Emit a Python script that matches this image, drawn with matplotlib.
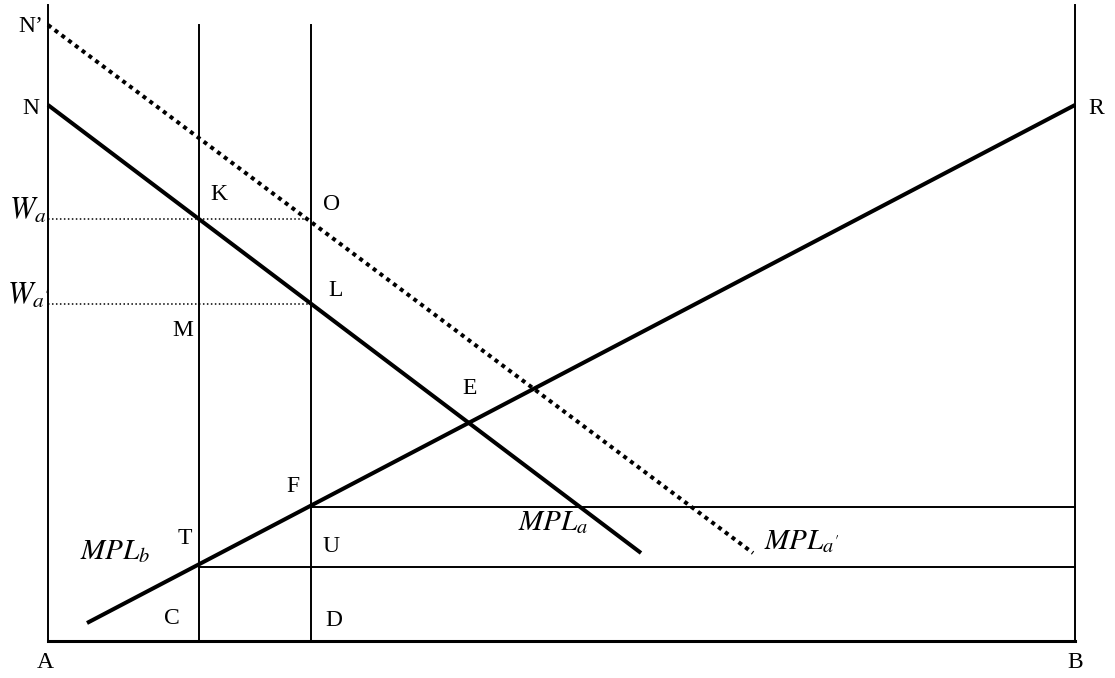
import matplotlib
matplotlib.use("Agg")
import matplotlib.pyplot as plt

plt.rcParams['mathtext.fontset'] = 'stix'
plt.rcParams['font.family'] = ['Liberation Serif', 'DejaVu Serif']

# ---- diagram data (canvas units, y grows downward) ----
axis_left_x = 48
axis_right_x = 1075
axis_bottom_y = 641
axis_top_y = 5
vline_xs = [199, 311]
vline_top = 25

mpl_a_x = [48, 641]
mpl_a_y = [105, 553]
mpl_a2_x = [48, 753]
mpl_a2_y = [25, 553]
mpl_b_x = [87, 1075]
mpl_b_y = [623, 105]

wage_levels = [219, 304]          # W_a, W_a'
wage_labels = [r'$W_{a}$', r"$W_{a'}$"]
hline_levels = [507, 567]          # F-level, T-level
hline_starts = [311, 199]

point_labels = ["N\u2019", "N", "R", "K", "O", "L", "M", "E", "F", "T", "U", "C", "D", "A", "B"]
point_x = [31, 31, 1096, 219, 332, 336, 183, 470, 293, 185, 331, 172, 334, 45, 1075]
point_y = [26, 108, 108, 195, 204, 290, 331, 389, 486, 539, 547, 619, 621, 663, 663]

curve_labels = [r'$MPL_a$', r"$MPL_{a'}$", r'$MPL_b$']
curve_lx = [518, 764, 80]
curve_ly = [523, 542, 552]

fig = plt.figure(figsize=(11.15, 6.78), dpi=100)
ax = fig.add_axes([0, 0, 1, 1])
ax.set_xlim(0, 1115)
ax.set_ylim(678, 0)
ax.axis('off')

thin = 1.4
thick = 2.9
# axes
ax.plot([axis_left_x, axis_left_x], [axis_top_y, axis_bottom_y], color='black', lw=thin)
ax.plot([axis_right_x, axis_right_x], [axis_top_y, axis_bottom_y], color='black', lw=thin)
ax.plot([axis_left_x, axis_right_x], [axis_bottom_y, axis_bottom_y], color='black', lw=2.2)
for vx in vline_xs:
    ax.plot([vx, vx], [vline_top, axis_bottom_y], color='black', lw=thin)
for hy, hx in zip(hline_levels, hline_starts):
    ax.plot([hx, axis_right_x], [hy, hy], color='black', lw=thin)
for wy in wage_levels:
    ax.plot([axis_left_x, vline_xs[1]], [wy, wy], color='black', lw=1.1, linestyle=(0, (1, 1.6)))

ax.plot(mpl_a_x, mpl_a_y, color='black', lw=thick, solid_capstyle='butt')
ax.plot(mpl_a2_x, mpl_a2_y, color='black', lw=thick, linestyle=(0, (1, 1.1)))
ax.plot(mpl_b_x, mpl_b_y, color='black', lw=thick, solid_capstyle='butt')

for t, x, y in zip(point_labels, point_x, point_y):
    ax.text(x, y, t, fontsize=17, ha='center', va='center')
for t, x, y in zip(wage_labels, [28, 28], wage_levels):
    ax.text(x, y - 8, t, fontsize=22, ha='center', va='center')
for t, x, y in zip(curve_labels, curve_lx, curve_ly):
    ax.text(x, y, t, fontsize=21, ha='left', va='center')

fig.savefig('out.png', dpi=100)
